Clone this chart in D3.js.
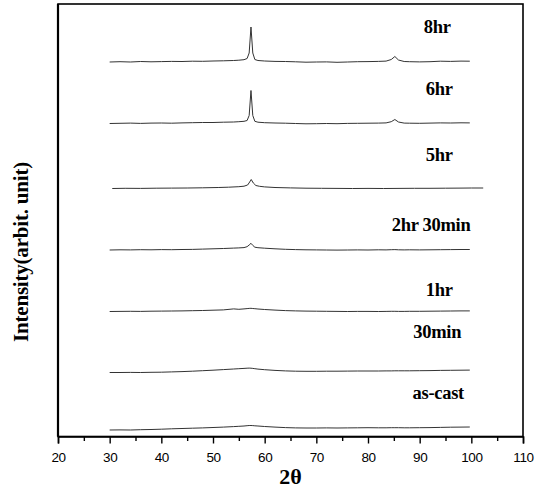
<!DOCTYPE html>
<html>
<head>
<meta charset="utf-8">
<script src="https://cdn.jsdelivr.net/npm/d3@7"></script>
<style>
  body { margin: 0; background: #fff; }
  svg { display: block; }
</style>
</head>
<body>
<div class="grafico"></div>
<script>
// sample names, top to bottom
var campioni = ["8hr", "6hr", "5hr", "2hr 30min", "1hr", "30min", "as-cast"];

// vertical shift of each pattern (arbitrary intensity units)
var spostamenti = [374.5, 313, 248, 186.5, 125, 64, 6.5];

// where the sample label sits (2theta, intensity)
var etichettaX = [93.4, 93.8, 93.8, 92.2, 93.8, 93.4, 93.6];
var etichettaY = [409.5, 347.5, 281.5, 211.5, 146.5, 104.5, 43.5];

var xTicks = [20, 30, 40, 50, 60, 70, 80, 90, 100, 110];

// common 2theta grid
var angoli = [30, 32, 34, 36, 38, 40, 42, 44, 46, 48,
              50, 52, 54, 55, 56, 56.6, 57.0, 57.35, 57.7, 58.1,
              58.7, 60, 62, 64, 66, 68, 70, 72, 74, 76,
              78, 80, 82, 83.5, 84.5, 85.2, 85.9, 87, 88, 90,
              92, 94, 96, 98, 99.7];

var int8hr = [0, 0.3, 0, 0.5, 0.2, 0.4, 0.6, 0.5, 0.8, 0.7,
              1, 1.2, 1.5, 1.8, 2.3, 3.5, 9, 35, 9, 2.5,
              1.5, 1, 0.6, 0.5, 0.2, -0.2, 0, 0.1, -0.3, 0,
              0.3, 0.4, 0.6, 0.9, 2.5, 5.5, 2, 0.5, 0.3, 0.1,
              0.3, 0.8, 0.6, 0.9, 0.8];

var int6hr = [0, 0.2, 0.4, 0.1, 0.4, 0.5, 0.3, 0.6, 0.8, 1,
              1, 1.3, 1.5, 1.8, 2.2, 3, 8, 33, 8, 2.2,
              1.3, 0.8, 0.5, 0.3, 0, -0.3, -0.2, 0, -0.2, 0.1,
              0.2, 0.3, 0.4, 0.6, 1.8, 4, 1.5, 0.4, 0.3, 0.2,
              0.4, 0.6, 0.5, 0.7, 0.6];

var int2hr30 = [0, 0.2, 0.1, 0.3, 0.2, 0.4, 0.3, 0.5, 0.6, 0.9,
                1.2, 1.5, 1.9, 2.1, 2.4, 3.3, 5, 6.7, 4.6, 2.8,
                2.3, 1.8, 1.2, 0.7, 0.4, 0.2, 0.1, 0, -0.1, 0,
                0.1, 0, 0.2, 0.1, 0.3, 0.4, 0.2, 0.1, 0.2, 0.1,
                0.2, 0.3, 0.4, 0.5, 0.5];

var int1hr = [0, 0.1, 0.2, 0.1, 0.3, 0.4, 0.5, 0.6, 0.8, 1,
              1.3, 1.6, 2.6, 2.2, 2.6, 2.9, 3.1, 3.2, 3, 2.8,
              2.5, 2, 1.4, 0.9, 0.6, 0.4, 0.3, 0.2, 0.1, 0,
              0.1, 0.1, 0, 0.1, 0.2, 0.2, 0.1, 0.1, 0.2, 0.2,
              0.3, 0.4, 0.5, 0.6, 0.6];

var int30min = [0, 0, 0.1, 0, 0.2, 0.3, 0.6, 0.9, 1.3, 1.8,
                2.3, 2.9, 3.5, 3.8, 4.1, 4.3, 4.4, 4.3, 4.1, 3.8,
                3.4, 2.8, 2.1, 1.6, 1.3, 1.2, 1.2, 1.3, 1.3, 1.4,
                1.5, 1.5, 1.5, 1.6, 1.6, 1.7, 1.7, 1.7, 1.7, 1.8,
                1.9, 2.1, 2.2, 2.3, 2.4];

var intAsCast = [0, 0.1, 0, 0.3, 0.5, 0.8, 1.2, 1.5, 1.8, 2.1,
                 2.5, 2.9, 3.4, 3.7, 4, 4.3, 4.5, 4.5, 4.4, 4.2,
                 4, 3.5, 2.9, 2.4, 2.1, 2, 2, 2.1, 2, 2.1,
                 2.2, 2.3, 2.2, 2.2, 2.3, 2.3, 2.3, 2.2, 2.2, 2.3,
                 2.4, 2.6, 2.8, 2.9, 3];

// the 5hr scan ran a bit longer
var angoli5hr = [30.5, 33, 36, 39, 42, 45, 48, 51, 53, 55,
                 56, 56.7, 57.1, 57.4, 57.8, 58.3, 59, 60, 62, 65,
                 68, 71, 74, 77, 80, 83, 86, 89, 92, 95,
                 98, 100, 102.3];
var int5hr = [0, 0.2, 0.1, 0.3, 0.4, 0.5, 0.7, 1, 1.3, 1.8,
              2.3, 3.5, 6.5, 9, 5.5, 3, 2.2, 1.6, 1, 0.6,
              0.3, 0.2, 0.1, 0, 0.1, 0, 0.1, 0.2, 0.2, 0.3,
              0.4, 0.5, 0.5];

var serie = [
  { x: angoli, y: int8hr },
  { x: angoli, y: int6hr },
  { x: angoli5hr, y: int5hr },
  { x: angoli, y: int2hr30 },
  { x: angoli, y: int1hr },
  { x: angoli, y: int30min },
  { x: angoli, y: intAsCast }
];

var w = 535,
    h = 488;

var svg = d3.select(".grafico")
  .append("svg")
  .attr("width", w)
  .attr("height", h);

var sinistra = 58, destra = 523, alto = 4, basso = 436.5;

var x = d3.scaleLinear().domain([20, 110]).range([sinistra, destra]);
var y = d3.scaleLinear().domain([0, basso - alto]).range([basso, alto]);

// Disegno i tracciati
var linea = d3.line()
  .x(function (d) { return x(d[0]); })
  .y(function (d) { return y(d[1]); });

serie.forEach(function (s, i) {
  var punti = s.x.map(function (a, k) { return [a, s.y[k] + spostamenti[i]]; });
  svg.append("path")
    .attr("d", linea(punti))
    .attr("fill", "none")
    .attr("stroke", "#333")
    .attr("stroke-width", 1);

  svg.append("text")
    .attr("x", x(etichettaX[i]))
    .attr("y", y(etichettaY[i]))
    .attr("dy", "0.35em")
    .attr("text-anchor", "middle")
    .attr("font-family", "'Liberation Serif', 'Times New Roman', serif")
    .attr("font-weight", "bold")
    .attr("font-size", 18.5)
    .attr("letter-spacing", -0.3)
    .text(campioni[i]);
});

// cornice
svg.append("rect")
  .attr("x", sinistra)
  .attr("y", alto)
  .attr("width", destra - sinistra)
  .attr("height", basso - alto)
  .attr("fill", "none")
  .attr("stroke", "#000")
  .attr("stroke-width", 1.6);

svg.append("line")
  .attr("x1", sinistra).attr("x2", sinistra)
  .attr("y1", alto).attr("y2", basso)
  .attr("stroke", "#000")
  .attr("stroke-width", 2.2);

// asse x
var asseX = svg.append("g")
  .attr("transform", "translate(0," + basso + ")")
  .call(d3.axisBottom(x).tickValues(xTicks).tickSize(7).tickPadding(9).tickFormat(d3.format("d")));

asseX.select(".domain").attr("stroke-width", 1.6);
asseX.selectAll(".tick line").attr("stroke-width", 1.4);
asseX.selectAll("text")
  .attr("font-family", "'Liberation Sans', Arial, sans-serif")
  .attr("font-size", 13.5)
  .attr("letter-spacing", -0.4)
  .attr("fill", "#000");

svg.append("g")
  .attr("transform", "translate(0," + basso + ")")
  .call(d3.axisBottom(x).tickValues(d3.range(25, 110, 10)).tickSize(4.5).tickFormat(""))
  .call(function (g) { g.select(".domain").remove(); })
  .selectAll(".tick line").attr("stroke-width", 1.4);

// titoli
svg.append("text")
  .attr("x", (sinistra + destra) / 2)
  .attr("y", 484)
  .attr("text-anchor", "middle")
  .attr("font-family", "'Liberation Serif', 'Times New Roman', serif")
  .attr("font-weight", "bold")
  .attr("font-size", 22)
  .text("2θ");

svg.append("text")
  .attr("transform", "translate(28,252) rotate(-90)")
  .attr("text-anchor", "middle")
  .attr("font-family", "'Liberation Serif', 'Times New Roman', serif")
  .attr("font-weight", "bold")
  .attr("font-size", 21)
  .attr("letter-spacing", -0.2)
  .text("Intensity(arbit. unit)");
</script>
</body>
</html>
